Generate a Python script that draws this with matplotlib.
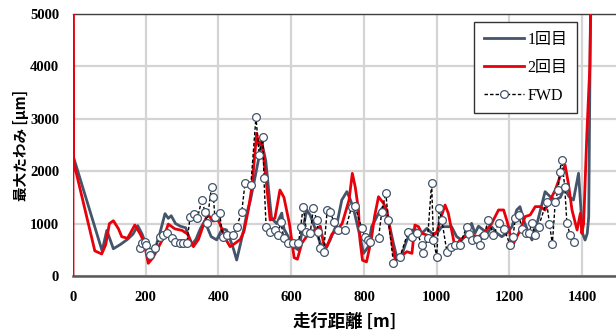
import matplotlib
matplotlib.use("Agg")
import matplotlib.pyplot as plt

# ---- data ----
run1_x = [0, 80, 93, 111, 130, 150, 165, 178, 190, 203, 215, 225, 239, 253, 262, 270, 282, 295, 310, 326,
          338, 350, 362, 380, 395, 410, 422, 432, 442, 450, 460, 470, 478, 488, 498, 508, 519, 530, 540, 546,
          560, 574, 580, 592, 606, 620, 629, 643, 652, 666, 680, 693, 707, 726, 739, 753, 763, 772, 785, 799,
          812, 821, 831, 840, 853, 867, 881, 890, 904, 918, 932, 946, 959, 973, 987, 1001, 1014, 1027, 1041, 1055,
          1069, 1082, 1096, 1105, 1115, 1128, 1140, 1151, 1165, 1179, 1193, 1207, 1220, 1229, 1239, 1253, 1262, 1276, 1298, 1312,
          1326, 1340, 1351, 1364, 1376, 1390, 1401, 1408, 1414, 1418, 1424]
run1_y = [2300, 480, 870, 520, 600, 700, 800, 960, 800, 560, 480, 500, 820, 1190, 1100, 1150, 1000, 950, 920, 590,
          700, 900, 1050, 750, 690, 900, 880, 700, 500, 305, 600, 900, 1200, 1450, 1800, 2150, 2550, 2200, 1500, 1100,
          1000, 1200, 900, 750, 560, 496, 815, 1260, 1165, 900, 624, 496, 687, 1005, 1450, 1610, 1450, 1260, 878, 432,
          560, 941, 1069, 1196, 1323, 1069, 624, 369, 400, 687, 878, 880, 814, 910, 814, 814, 941, 941, 940, 750,
          687, 814, 1005, 814, 950, 880, 820, 941, 820, 750, 820, 941, 1260, 1323, 1069, 814, 687, 1005, 1609, 1514,
          1450, 1500, 1673, 1514, 1450, 1960, 814, 687, 814, 1133, 6000]

run2_x = [0, 0, 1, 60, 79, 90, 100, 111, 125, 134, 150, 170, 185, 195, 207, 220, 235, 250, 262, 280,
          300, 315, 331, 345, 360, 370, 385, 400, 420, 432, 445, 460, 470, 482, 492, 505, 511, 519, 530, 542,
          555, 569, 580, 595, 608, 617, 629, 643, 665, 680, 689, 698, 712, 726, 740, 759, 768, 776, 785, 789,
          796, 807, 820, 829, 840, 854, 863, 876, 886, 900, 918, 932, 940, 950, 959, 987, 1001, 1014, 1023, 1032,
          1041, 1050, 1064, 1078, 1096, 1115, 1133, 1151, 1170, 1184, 1198, 1207, 1216, 1230, 1243, 1257, 1271, 1285, 1298, 1312,
          1326, 1339, 1353, 1362, 1372, 1386, 1395, 1399, 1404, 1413, 1421, 1426]
run2_y = [0, 6000, 2200, 480, 420, 600, 1000, 1055, 900, 750, 720, 973, 800, 650, 242, 350, 550, 750, 990, 900,
          870, 800, 560, 700, 1000, 1180, 1050, 1060, 700, 560, 620, 700, 850, 1260, 1700, 2723, 2500, 2595, 1900, 1069,
          1100, 1640, 1500, 1000, 350, 320, 624, 760, 878, 950, 624, 560, 800, 878, 1000, 1450, 1959, 1700, 1260, 687,
          300, 270, 687, 1130, 1513, 1385, 1260, 687, 305, 369, 464, 432, 973, 941, 814, 750, 846, 1164, 1355, 1196,
          878, 560, 687, 750, 780, 750, 846, 1000, 1260, 1260, 941, 560, 687, 878, 1133, 1165, 1324, 1324, 1260, 1450,
          1641, 1896, 2118, 1768, 1260, 878, 1196, 814, 1000, 2727, 4000, 6000]

fwd_x = [184, 189, 198, 201, 210, 212, 225, 239, 248, 259, 271, 281, 293, 302, 313, 322, 333, 342, 354, 363,
         368, 381, 386, 390, 403, 412, 423, 441, 450, 464, 473, 489, 503, 512, 522, 525, 531, 542, 556, 564,
         571, 580, 592, 606, 620, 626, 633, 642, 652, 661, 670, 674, 679, 689, 699, 707, 717, 730, 749, 766,
         775, 794, 803, 812, 817, 840, 849, 860, 867, 881, 899, 922, 932, 947, 959, 963, 975, 986, 991, 1000,
         1007, 1014, 1028, 1040, 1050, 1063, 1083, 1090, 1097, 1110, 1119, 1130, 1142, 1156, 1170, 1185, 1202, 1210, 1216, 1225,
         1235, 1245, 1253, 1262, 1270, 1280, 1302, 1310, 1318, 1326, 1334, 1338, 1344, 1352, 1358, 1367, 1378]
fwd_y = [528, 624, 655, 600, 464, 400, 528, 750, 780, 814, 719, 655, 624, 624, 624, 1132, 1183, 1100, 1450, 1228,
         1005, 1704, 1514, 1132, 1196, 750, 783, 783, 941, 1228, 1769, 1737, 3028, 2309, 2659, 1864, 941, 846, 878, 783,
         1037, 719, 624, 624, 624, 941, 1323, 846, 814, 1291, 1069, 846, 528, 464, 1260, 1228, 1037, 878, 878, 1323,
         1340, 910, 750, 687, 655, 719, 1228, 1590, 1069, 255, 369, 846, 750, 814, 592, 432, 720, 1782, 687, 369,
         1291, 1069, 464, 560, 600, 592, 941, 800, 687, 700, 592, 780, 1069, 783, 1005, 900, 592, 750, 1101, 1164,
         900, 820, 814, 1005, 780, 941, 1418, 1000, 610, 1418, 1641, 1990, 2213, 1705, 1005, 783, 655]

labels = ["1回目", "2回目", "FWD"]
x_ticks = [0, 200, 400, 600, 800, 1000, 1200, 1400]
y_ticks = [0, 1000, 2000, 3000, 4000, 5000]

# ---- figure ----
fig = plt.figure(figsize=(6.16, 3.36), dpi=100)
ax = fig.add_axes([73/616, 1-276/336, 1-73/616, (276-14)/336])

ax.plot(run1_x, run1_y, color="#44546A", lw=2.0, label=labels[0], zorder=3)
ax.plot(run2_x, run2_y, color="#E8000B", lw=2.0, label=labels[1], zorder=4)
ax.plot(fwd_x, fwd_y, color="black", lw=1.0, ls=(0, (2.5, 1.5)), marker="o",
        markersize=5.6, markerfacecolor="white", markeredgecolor="#44546A",
        markeredgewidth=0.9, label=labels[2], zorder=5)

ax.set_xlim(0, 1493)
ax.set_ylim(0, 5000)
ax.set_xticks(x_ticks)
ax.set_yticks(y_ticks)
ax.grid(True, color="#D4D4D4", lw=1.6, zorder=0)
ax.set_axisbelow(True)

for s in ["left", "right"]:
    ax.spines[s].set_visible(False)
ax.spines["top"].set_color("#404040")
ax.spines["top"].set_linewidth(1.0)
ax.spines["bottom"].set_color("#595959")
ax.spines["bottom"].set_linewidth(1.8)

ax.tick_params(axis="x", length=0, pad=11)
ax.tick_params(axis="y", length=0, pad=10)
for lab in ax.get_xticklabels() + ax.get_yticklabels():
    lab.set_fontfamily(["Liberation Serif", "DejaVu Serif"])
    lab.set_fontweight("bold")
    lab.set_fontsize(10.5)

ax.set_xlabel("走行距離 [m]", family=["Noto Sans CJK JP", "DejaVu Sans"],
              fontsize=12.5, fontweight="bold", labelpad=6)
ax.set_ylabel("最大たわみ [μm]", family=["Noto Sans CJK JP", "DejaVu Sans"],
              fontsize=10.5, fontweight="bold", labelpad=1)

leg = ax.legend(loc="upper left", bbox_to_anchor=(474/616, 1-22/336),
                bbox_transform=fig.transFigure, borderaxespad=0,
                fancybox=False, framealpha=1,
                edgecolor="#333333", handlelength=2.5, handletextpad=0.25,
                borderpad=0.6, labelspacing=0.75,
                prop={"family": ["Liberation Serif", "Noto Sans CJK JP"], "size": 11.5})
leg.get_frame().set_linewidth(1.0)

fig.savefig("out.png", dpi=100)
